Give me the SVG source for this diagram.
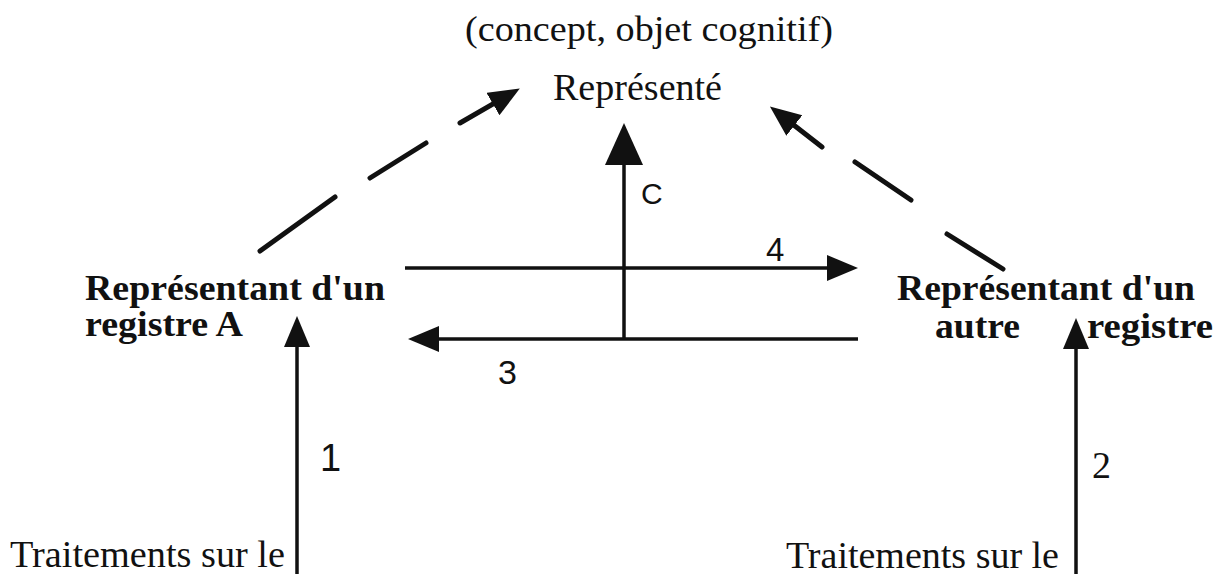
<svg xmlns="http://www.w3.org/2000/svg" width="1226" height="574" viewBox="0 0 1226 574">
  <style>
    .serif { font-family: "Liberation Serif", "Times New Roman", serif; fill: #111; }
    .bold { font-family: "Liberation Serif", "Times New Roman", serif; font-weight: bold; fill: #111; }
    .sans { font-family: "Liberation Sans", Arial, sans-serif; fill: #111; }
    .solid { stroke: #111; stroke-width: 3.5; fill: none; }
    .dash { stroke: #111; stroke-width: 5; fill: none; stroke-linecap: round; }
  </style>
  <defs>
    <marker id="ah" markerUnits="userSpaceOnUse" markerWidth="34" markerHeight="28" refX="22" refY="13" orient="auto">
      <path d="M0,0 L31,13 L0,26 z" fill="#111"/>
    </marker>
    <marker id="ahBig" markerUnits="userSpaceOnUse" markerWidth="44" markerHeight="40" refX="34" refY="19" orient="auto">
      <path d="M0,0 L42,19 L0,38 z" fill="#111"/>
    </marker>
  </defs>
  <rect width="1226" height="574" fill="#fff"/>

  <g id="represente">
    <text class="serif" x="465" y="41" font-size="36" textLength="368" lengthAdjust="spacingAndGlyphs">(concept, objet cognitif)</text>
    <text class="serif" x="553" y="100" font-size="37" textLength="169" lengthAdjust="spacingAndGlyphs">Représenté</text>
  </g>

  <g id="registreA">
    <text class="bold" x="85" y="300" font-size="36" textLength="300" lengthAdjust="spacingAndGlyphs">Représentant d'un</text>
    <text class="bold" x="85" y="336" font-size="36" textLength="158" lengthAdjust="spacingAndGlyphs">registre A</text>
  </g>

  <g id="autreRegistre">
    <text class="bold" x="897" y="300" font-size="36" textLength="298" lengthAdjust="spacingAndGlyphs">Représentant d'un</text>
    <text class="bold" x="935" y="338" font-size="36" textLength="85" lengthAdjust="spacingAndGlyphs">autre</text>
    <text class="bold" x="1087" y="338" font-size="36" textLength="126" lengthAdjust="spacingAndGlyphs">registre</text>
  </g>

  <g id="traitementsA">
    <text class="serif" x="10" y="567" font-size="37" textLength="275" lengthAdjust="spacingAndGlyphs">Traitements sur le</text>
  </g>

  <g id="traitementsB">
    <text class="serif" x="786" y="568" font-size="37" textLength="273" lengthAdjust="spacingAndGlyphs">Traitements sur le</text>
  </g>

  <g id="connectors">
    <path class="dash" d="M260,251 L335,197 M370,178 L426,143 M460,123 L512,93" marker-end="url(#ah)"/>
    <path class="dash" d="M1003,269 L947,234 M911,200 L855,162 M822,147 L777,112" marker-end="url(#ah)"/>
    <path class="solid" d="M624,340 L624,131" marker-end="url(#ahBig)"/>
    <path class="solid" d="M405,268 L849,268" marker-end="url(#ah)"/>
    <path class="solid" d="M858,339 L417,339" marker-end="url(#ah)"/>
    <path class="solid" d="M297,574 L297,325" marker-end="url(#ah)"/>
    <path class="solid" d="M1076,574 L1076,327" marker-end="url(#ah)"/>
    <text class="sans" x="641" y="204" font-size="30">C</text>
    <text class="sans" x="766" y="261" font-size="33">4</text>
    <text class="sans" x="498" y="384" font-size="34">3</text>
    <text class="sans" x="320" y="471" font-size="38">1</text>
    <text class="serif" x="1092" y="478" font-size="38">2</text>
  </g>
</svg>
